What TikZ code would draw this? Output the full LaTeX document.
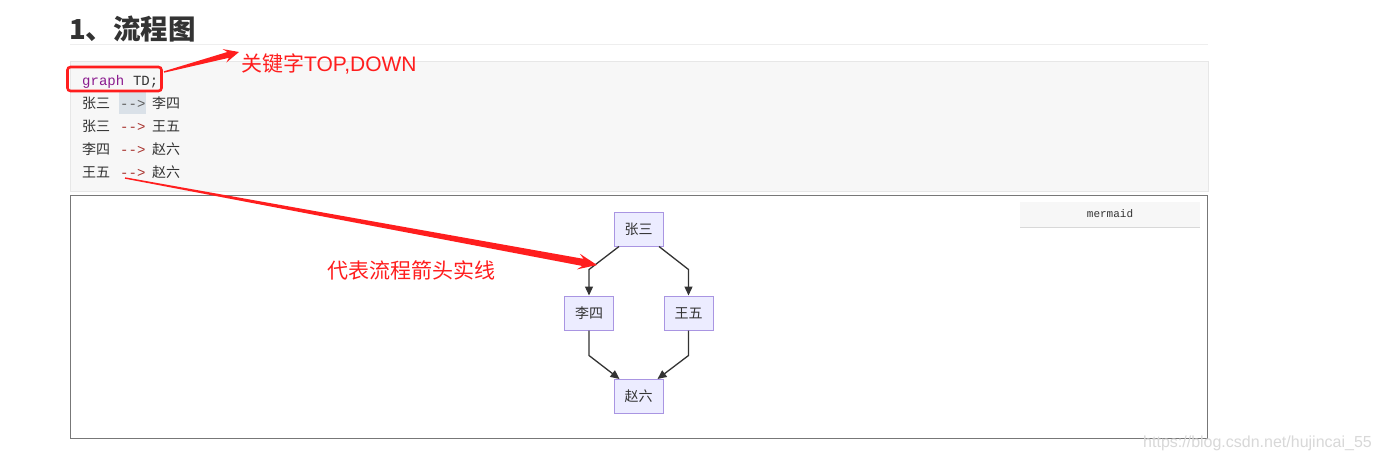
\documentclass[tikz,border=0pt]{standalone}
\usepackage{fontspec}
\setmainfont{Liberation Sans}
\newfontfamily\cjk{Noto Sans CJK SC}
\newfontfamily\mono{Liberation Mono}
\usetikzlibrary{calc,arrows.meta}

\definecolor{ink}{HTML}{333333}
\definecolor{rulegray}{HTML}{EEEEEE}
\definecolor{codebg}{HTML}{F7F7F7}
\definecolor{codeborder}{HTML}{E7E7E7}
\definecolor{kw}{HTML}{8A1A8E}
\definecolor{op}{HTML}{A8322D}
\definecolor{sel}{HTML}{DAE1E8}
\definecolor{annot}{HTML}{FF1E1E}
\definecolor{nodefill}{HTML}{ECECFF}
\definecolor{nodeline}{HTML}{A995E2}
\definecolor{framegray}{HTML}{777777}
\definecolor{lightgray}{HTML}{D8D8D8}

% tapered annotation arrow: tail, tip, head length, head half-width, shaft half-width
\newcommand\annotarrow[5]{%
  \coordinate (#1-b) at ($(#2)!#3!(#1)$);
  \coordinate (#1-s) at ($(#2)!0.75*#3!(#1)$);
  \fill[annot] ($(#1)!0.7pt!90:(#2)$)
    -- ($(#1-s)!#5!90:(#2)$)
    -- ($(#1-b)!#4!90:(#2)$)
    -- (#2)
    -- ($(#1-b)!#4!-90:(#2)$)
    -- ($(#1-s)!#5!-90:(#2)$)
    -- ($(#1)!0.7pt!-90:(#2)$) -- cycle;
}

\tikzset{
  codetxt/.style={anchor=base west, inner sep=0pt, text=ink, font=\cjk\fontsize{14}{16}\selectfont},
  codeop/.style={anchor=base west, inner sep=0pt, font=\mono\fontsize{14}{16}\selectfont},
  flownode/.style={draw=nodeline, fill=nodefill, line width=1pt, minimum width=49pt,
    minimum height=34pt, inner sep=0pt, text=ink, font=\cjk\fontsize{14}{16}\selectfont},
  flow/.style={draw=ink, line width=1.3pt, -{Triangle[length=9pt,width=8pt]}},
  annottxt/.style={anchor=west, inner sep=0pt, text=annot, font=\cjk\fontsize{21}{25}\selectfont},
}

\begin{document}
\begin{tikzpicture}[x=1pt,y=-1pt]
\useasboundingbox (0,0) rectangle (1380,463);
\fill[white] (0,0) rectangle (1380,463);

% heading
\node[anchor=west, inner sep=0pt, text=ink, font=\cjk\bfseries\fontsize{27.5}{32}\selectfont] (title) at (69,29) {1、流程图};
\draw[rulegray, line width=1pt] (70,44) -- (1208,44);

% code block
\draw[codeborder, fill=codebg] (70,61.5) rectangle (1208,191);
\fill[sel] (119,92) rectangle (146,114);
\node[codeop, text=kw] (kwgraph) at (82,85) {graph};
\node[codeop, text=ink, anchor=base west] (kwtd) at (kwgraph.base east) {\ TD;};

\node[codetxt] (l1a) at (82,108) {张三};
\node[codeop, text=ink!80] (l1o) at (120,108) {-->};
\node[codetxt] (l1b) at (152,108) {李四};

\node[codetxt] (l2a) at (82,131) {张三};
\node[codeop, text=op] (l2o) at (120,131) {-->};
\node[codetxt] (l2b) at (152,131) {王五};

\node[codetxt] (l3a) at (82,154) {李四};
\node[codeop, text=op] (l3o) at (120,154) {-->};
\node[codetxt] (l3b) at (152,154) {赵六};

\node[codetxt] (l4a) at (82,177) {王五};
\node[codeop, text=op] (l4o) at (120,177) {-->};
\node[codetxt] (l4b) at (152,177) {赵六};

% rendered diagram frame
\draw[framegray, line width=1pt] (70.5,195.5) rectangle (1207.5,438);
\fill[codebg] (1020,202) rectangle (1200,227);
\draw[lightgray, line width=1pt] (1020,227) -- (1200,227);
\node[inner sep=0pt, text=ink, font=\mono\fontsize{11}{13}\selectfont] (mbtn) at (1110,214) {mermaid};

% flowchart
\node[flownode] (zs) at (638.5,229) {张三};
\node[flownode] (ls) at (589,313) {李四};
\node[flownode] (ww) at (688.5,313) {王五};
\node[flownode] (zl) at (638.5,396.5) {赵六};

\draw[flow] ([xshift=-19.5pt]zs.south) -- ([yshift=26pt]ls.north) -- (ls.north);
\draw[flow] ([xshift=20.5pt]zs.south) -- ([yshift=26pt]ww.north) -- (ww.north);
\draw[flow] (ls.south) -- ([yshift=-25pt]ls.south) -- ([xshift=-19pt]zl.north);
\draw[flow] (ww.south) -- ([yshift=-25pt]ww.south) -- ([xshift=19pt]zl.north);

% annotations
\draw[annot, line width=2.6pt, rounded corners=3pt] (67.5,67) rectangle (161.5,91);
\coordinate (t1) at (164,72);
\coordinate (p1) at (239,52);
\annotarrow{t1}{p1}{15pt}{7pt}{3pt}
\node[annottxt] (lab1) at (241,64) {关键字{\rmfamily TOP,DOWN}};

\coordinate (t2) at (125,178);
\coordinate (p2) at (597,265);
\annotarrow{t2}{p2}{19pt}{8pt}{3.6pt}
\node[annottxt] (lab2) at (327,270) {代表流程箭头实线};

% watermark
\node[anchor=west, inner sep=0pt, text=lightgray, font=\fontsize{16}{18}\selectfont] (wm) at (1143,443) {https://blog.csdn.net/hujincai\_55};
\end{tikzpicture}
\end{document}
